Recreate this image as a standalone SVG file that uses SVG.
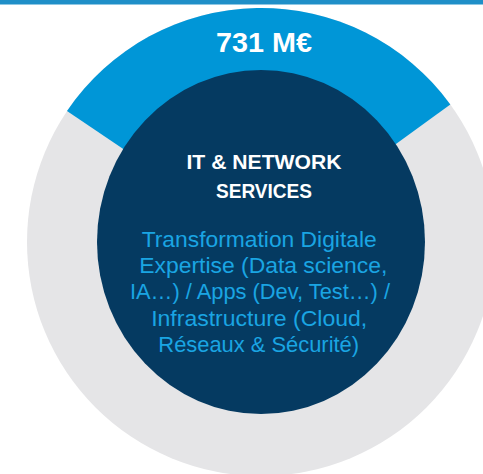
<svg xmlns="http://www.w3.org/2000/svg" width="483" height="474" viewBox="0 0 483 474">
<style>
.title{font-family:"Liberation Sans",Arial,sans-serif;font-weight:bold;fill:#ffffff;text-anchor:middle}
.desc{font-family:"Liberation Sans",Arial,sans-serif;font-size:22px;fill:#1aa5e3;text-anchor:middle}
</style>
<rect x="0" y="0" width="483" height="4.5" fill="#1f8fc8"/>
<g id="ring">
<circle cx="261" cy="242" r="234" fill="#e5e5e7"/>
<path d="M261,242 L67,111.1 A234,234 0 0 1 450.3,104.5 Z" fill="#0096d7"/>
</g>
<g id="value">
<text class="title" x="264" y="52" font-size="27.5" textLength="96" lengthAdjust="spacingAndGlyphs">731 M€</text>
</g>
<g id="center-node">
<ellipse cx="261" cy="242" rx="164" ry="172" fill="#053a61"/>
<text class="title" x="264" y="169" font-size="21" textLength="155" lengthAdjust="spacingAndGlyphs">IT &amp; NETWORK</text>
<text class="title" x="264" y="198" font-size="21" textLength="96" lengthAdjust="spacingAndGlyphs">SERVICES</text>
<text class="desc" x="259.2" y="246.5" textLength="235" lengthAdjust="spacingAndGlyphs">Transformation Digitale</text>
<text class="desc" x="263.3" y="272.5" textLength="248" lengthAdjust="spacingAndGlyphs">Expertise (Data science,</text>
<text class="desc" x="260" y="299" textLength="260" lengthAdjust="spacingAndGlyphs">IA…) / Apps (Dev, Test…) /</text>
<text class="desc" x="259.2" y="325.5" textLength="216" lengthAdjust="spacingAndGlyphs">Infrastructure (Cloud,</text>
<text class="desc" x="258.7" y="352" textLength="200.7" lengthAdjust="spacingAndGlyphs">Réseaux &amp; Sécurité)</text>
</g>
<g id="connectors"/>
</svg>
